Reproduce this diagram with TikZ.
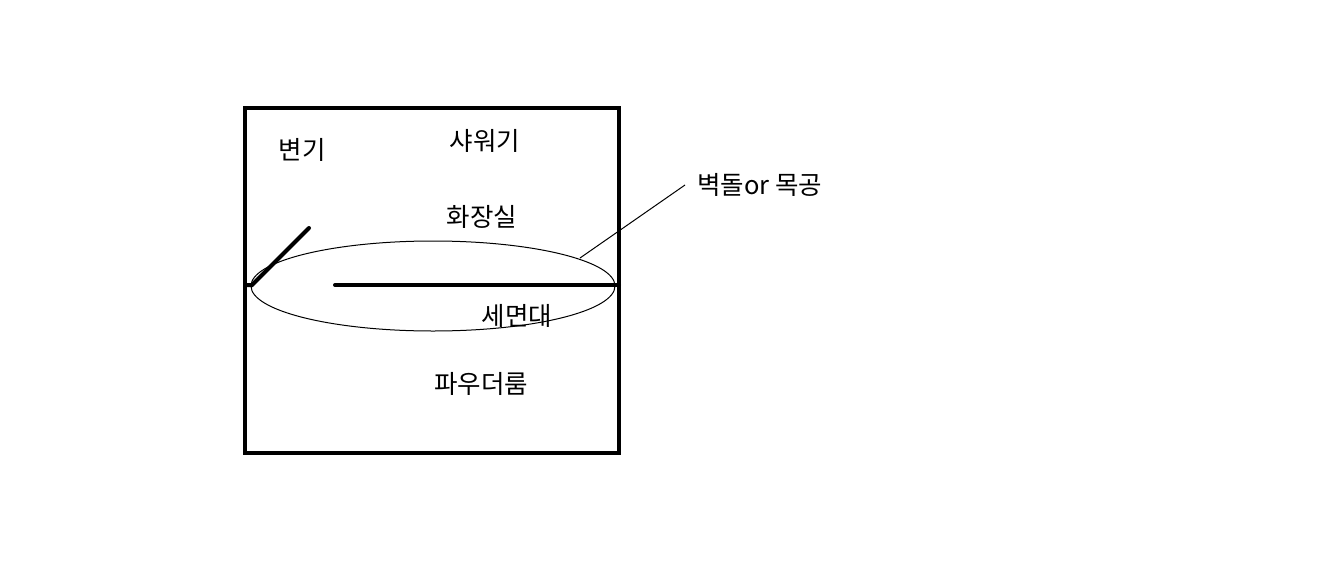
\documentclass[tikz,border=0pt]{standalone}
\usepackage{fontspec}
\setmainfont{Noto Sans CJK KR}
\begin{document}
\begin{tikzpicture}[x=1pt,y=-1pt,
  wall/.style={line width=4pt},
  thin/.style={line width=1pt},
  lbl/.style={inner sep=0pt,font=\fontsize{25.5}{30}\selectfont}]
\useasboundingbox (0,0) rectangle (1323,571);
\draw[wall] (245,108) rectangle (619,453);
\draw[thin] (433,286) ellipse [x radius=182, y radius=45];
\coordinate (dA) at (245,285);
\coordinate (dB) at (252,285);
\coordinate (dC) at (309,228);
\draw[wall,line cap=round] (dA) -- (dB) -- (dC);
\coordinate (hA) at (335,285);
\coordinate (hB) at (619,285);
\draw[wall,line cap=round] (hA) -- (hB);
\node[lbl] (toilet) at (302,150) {변기};
\node[lbl] (shower) at (485,141) {샤워기};
\node[lbl] (bath) at (482,217) {화장실};
\node[lbl] (sink) at (517,316) {세면대};
\node[lbl] (powder) at (481,384) {파우더룸};
\node[lbl,anchor=west] (note) at (697,185) {벽돌or 목공};
\coordinate (lead) at (580,258);
\draw[thin] (lead) -- ([xshift=-12pt]note.west);
\end{tikzpicture}
\end{document}
